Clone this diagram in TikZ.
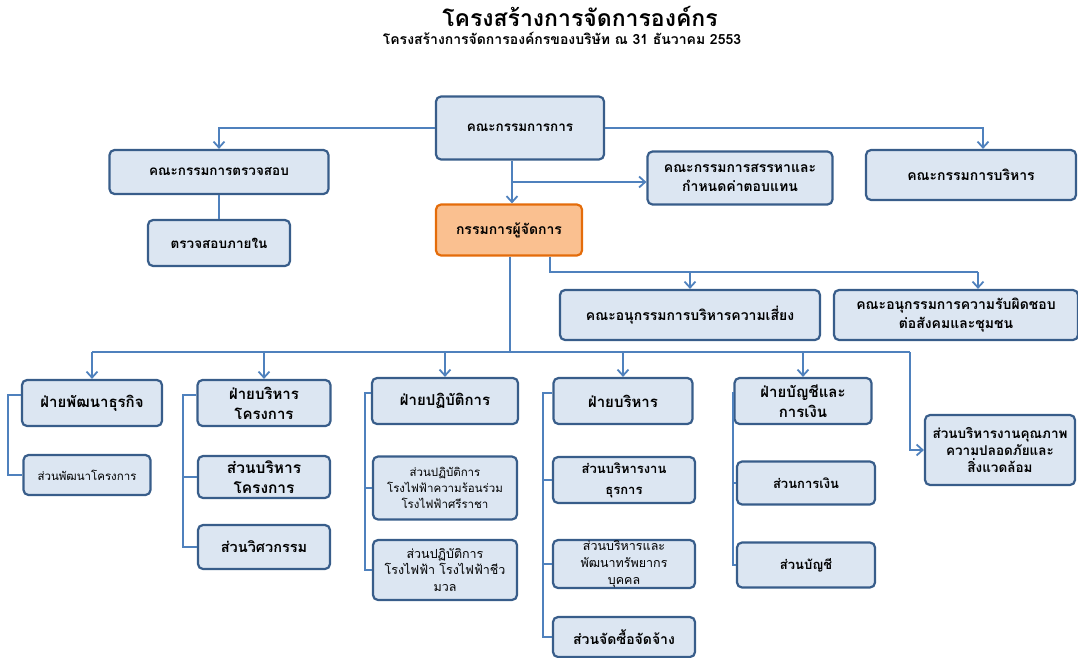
\documentclass[tikz,border=0pt]{standalone}
\usepackage{fontspec}
\setmainfont[Script=Thai]{Loma}
\usetikzlibrary{arrows.meta}
\definecolor{boxfill}{HTML}{DCE6F2}
\definecolor{boxline}{HTML}{385D8A}
\definecolor{linkblue}{HTML}{4F81BD}
\definecolor{mdfill}{HTML}{FAC090}
\definecolor{mdline}{HTML}{E46C0A}
\tikzset{
  box/.style={draw=boxline, fill=boxfill, line width=2.2pt, rounded corners=5pt,
    align=center, inner sep=2pt, font=\bfseries\fontsize{14}{19}\selectfont},
  smallbox/.style={box, font=\bfseries\fontsize{13.5}{15}\selectfont},
  deptbox/.style={box, font=\bfseries\fontsize{15}{20}\selectfont},
  secbox/.style={box, font=\fontsize{11.5}{16}\selectfont},
  bigsec/.style={box, font=\bfseries\fontsize{13}{21}\selectfont},
  conn/.style={draw=linkblue, line width=1.8pt},
  arr/.style={conn, -{Straight Barb[length=6pt,width=11pt]}},
}
\begin{document}
\begin{tikzpicture}[x=1pt,y=-1pt]
\useasboundingbox (0,0) rectangle (1078,658);
% Titles
\draw (580,16) node[font=\bfseries\fontsize{23}{25}\selectfont] (title) {โครงสร้างการจัดการองค์กร};
\draw (562,38) node[font=\bfseries\fontsize{14}{16}\selectfont] (subtitle) {โครงสร้างการจัดการองค์กรของบริษัท ณ 31 ธันวาคม 2553};
% Board and committees
\draw (520,128) node[smallbox, minimum width=168, minimum height=63] (board) {คณะกรรมการการ};
\draw (219,172) node[smallbox, minimum width=219, minimum height=44] (audit) {คณะกรรมการตรวจสอบ};
\draw (219,243) node[smallbox, minimum width=142, minimum height=46] (ia) {ตรวจสอบภายใน};
\draw (740,178) node[box, minimum width=185, minimum height=53] (nom) {คณะกรรมการสรรหาและ\\กำหนดค่าตอบแทน};
\draw (971,175) node[box, minimum width=210, minimum height=50] (exec) {คณะกรรมการบริหาร};
\draw (509,230) node[box, draw=mdline, fill=mdfill, minimum width=146, minimum height=51] (md) {กรรมการผู้จัดการ};
\draw (690,315) node[box, minimum width=260, minimum height=50] (risk) {คณะอนุกรรมการบริหารความเสี่ยง};
\draw (956,315) node[box, minimum width=244, minimum height=50] (csr) {คณะอนุกรรมการความรับผิดชอบ\\ต่อสังคมและชุมชน};
% Departments
\draw (92,403) node[deptbox, minimum width=140, minimum height=46] (d1) {ฝ่ายพัฒนาธุรกิจ};
\draw (264,403) node[deptbox, minimum width=133, minimum height=46] (d2) {ฝ่ายบริหาร\\โครงการ};
\draw (445,401) node[deptbox, minimum width=146, minimum height=46] (d3) {ฝ่ายปฏิบัติการ};
\draw (623,401) node[deptbox, minimum width=139, minimum height=46] (d4) {ฝ่ายบริหาร};
\draw (803,401) node[deptbox, minimum width=137, minimum height=46] (d5) {ฝ่ายบัญชีและ\\การเงิน};
\draw (1000,450) node[bigsec, font=\bfseries\fontsize{13.5}{17}\selectfont, minimum width=150, minimum height=70] (qse) {ส่วนบริหารงานคุณภาพ\\ความปลอดภัยและ\\สิ่งแวดล้อม};
% Sections
\draw (87,475) node[secbox, minimum width=127, minimum height=40] (s11) {ส่วนพัฒนาโครงการ};
\draw (264,477) node[bigsec, font=\bfseries\fontsize{15.5}{20}\selectfont, minimum width=132, minimum height=42] (s21) {ส่วนบริหาร\\โครงการ};
\draw (264,547) node[bigsec, font=\bfseries\fontsize{14.5}{17}\selectfont, minimum width=132, minimum height=44] (s22) {ส่วนวิศวกรรม};
\draw (445,488) node[secbox, minimum width=144, minimum height=63] (s31) {ส่วนปฏิบัติการ\\โรงไฟฟ้าความร้อนร่วม\\โรงไฟฟ้าศรีราชา};
\draw (445,570) node[secbox, font=\fontsize{12.5}{16.5}\selectfont, minimum width=144, minimum height=60] (s32) {ส่วนปฏิบัติการ\\โรงไฟฟ้า โรงไฟฟ้าชีว\\มวล};
\draw (624,480) node[bigsec, minimum width=142, minimum height=46] (s41) {ส่วนบริหารงาน\\ธุรการ};
\draw (624,564) node[secbox, font=\fontsize{12.5}{17}\selectfont, inner sep=0pt, minimum width=142, minimum height=48] (s42) {ส่วนบริหารและ\\พัฒนาทรัพยากร\\บุคคล};
\draw (624,637) node[bigsec, font=\bfseries\fontsize{14}{16}\selectfont, minimum width=142, minimum height=40] (s43) {ส่วนจัดซื้อจัดจ้าง};
\draw (806,483) node[bigsec, minimum width=138, minimum height=43] (s51) {ส่วนการเงิน};
\draw (806,565) node[bigsec, minimum width=138, minimum height=45] (s52) {ส่วนบัญชี};
% Board to committees
\draw[arr] (board.west) -| (audit.north);
\draw[arr] (board.east) -| ([xshift=12pt]exec.north);
\draw[conn] (audit) -- (ia);
\coordinate (bm) at (512,182);
\draw[conn] (board.south -| bm) -- (bm);
\draw[arr] (bm) -- (md.north -| bm);
\draw[arr] (bm) -- (nom.west |- bm);
% MD to subcommittees
\coordinate (sc) at (550,272);
\draw[conn] (md.south -| sc) |- ([xshift=22pt]csr.north |- sc);
\draw[arr] (risk.north |- sc) -- (risk.north);
\draw[arr] ([xshift=22pt]csr.north |- sc) -- ([xshift=22pt]csr.north);
% MD to departments
\coordinate (bus) at (510,352);
\coordinate (busend) at (910,352);
\draw[conn] (md.south -| bus) -- (bus);
\draw[conn] (d1.north |- bus) -- (busend);
\foreach \d in {d1,d2,d3,d4,d5}
  \draw[arr] (\d.north |- bus) -- (\d.north);
\draw[arr] (busend) |- (qse.west);
% Departments to sections
\coordinate (sp1) at (8,0);
\coordinate (sp2) at (183,0);
\coordinate (sp3) at (365,0);
\coordinate (sp4) at (543,0);
\coordinate (sp5) at (733,0);
\foreach \d/\sp/\last in {d1/sp1/s11, d2/sp2/s22, d3/sp3/s32, d4/sp4/s43, d5/sp5/s52}
  \draw[conn] ([yshift=8pt]\d.west) -- ([yshift=8pt]\d.west -| \sp) |- (\last.west);
\foreach \s/\sp in {s21/sp2, s31/sp3, s41/sp4, s42/sp4, s51/sp5}
  \draw[conn] (\s.west) -- (\s.west -| \sp);
\end{tikzpicture}
\end{document}
